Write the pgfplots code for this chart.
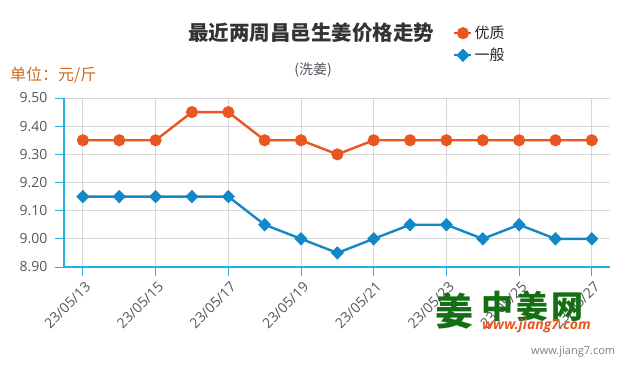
\documentclass[border=0pt]{standalone}
\usepackage{fontspec}
\setmainfont{Open Sans}
\newfontfamily\cjk{Noto Sans CJK SC}
\usepackage{pgfplots}
\pgfplotsset{compat=1.18}
\definecolor{cOrange}{RGB}{233,86,32}
\definecolor{cBlue}{RGB}{18,136,200}
\definecolor{cAxis}{RGB}{40,175,225}
\definecolor{cGrid}{RGB}{215,215,215}
\definecolor{cTick}{RGB}{85,85,95}
\definecolor{cUnit}{RGB}{210,105,30}
\definecolor{cLogo}{RGB}{20,110,20}
\begin{document}
\begin{tikzpicture}[x=1pt,y=1pt]
\useasboundingbox (0pt,0pt) rectangle (635pt,-375pt);
\begin{axis}[
  at={(64pt,-267pt)}, anchor=south west,
  scale only axis, width=546pt, height=169pt,
  xmin=-0.52, xmax=14.5, ymin=8.9, ymax=9.5,
  axis x line=bottom, axis y line=left,
  axis line style={-, draw=cAxis, line width=1.2pt},
  xtick={0,2,...,14},
  xticklabels={23/05/13,23/05/15,23/05/17,23/05/19,23/05/21,23/05/23,23/05/25,23/05/27},
  ytick={8.9,9.0,...,9.5},
  /pgf/number format/fixed, /pgf/number format/fixed zerofill, /pgf/number format/precision=2,
  /pgf/number format/assume math mode=true,
  tick align=outside, major tick length=9pt,
  tick style={draw=cAxis, line width=1pt},
  grid=major, major grid style={draw=cGrid, line width=0.9pt},
  ticklabel style={font=\fontsize{14}{16}\selectfont, text=cTick},
  x tick label style={rotate=45, anchor=north east, xshift=1pt, yshift=-1pt},
  y tick label style={xshift=-4pt},
  legend style={at={(0.707,1.45)}, anchor=north west, draw=none, fill=none,
    font=\cjk\fontsize{15}{17}\selectfont, text=black!85, row sep=4pt,
    /tikz/every even column/.append style={column sep=4pt}},
  legend cell align=left,
  clip=false,
]
\addplot[cOrange, line width=2.4pt, mark=*, mark size=4.8pt, mark options={solid, fill=cOrange, draw=cOrange}]
 coordinates {(0,9.35)(1,9.35)(2,9.35)(3,9.45)(4,9.45)(5,9.35)(6,9.35)(7,9.30)(8,9.35)(9,9.35)(10,9.35)(11,9.35)(12,9.35)(13,9.35)(14,9.35)};
\addlegendentry{优质}
\addplot[cBlue, line width=2.4pt, mark=diamond*, mark size=5pt, mark options={solid, fill=cBlue, draw=cBlue, xscale=1.3}]
 coordinates {(0,9.15)(1,9.15)(2,9.15)(3,9.15)(4,9.15)(5,9.05)(6,9.00)(7,8.95)(8,9.00)(9,9.05)(10,9.05)(11,9.00)(12,9.05)(13,9.00)(14,9.00)};
\addlegendentry{一般}
\end{axis}
\node[font=\cjk\bfseries\fontsize{20.5}{22}\selectfont, text=black!80] at (311pt,-33pt) {最近两周昌邑生姜价格走势};
\node[font=\cjk\fontsize{14}{16}\selectfont, text=cTick] at (313pt,-70pt) {(洗姜)};
\node[font=\cjk\fontsize{16}{18}\selectfont, text=cUnit, anchor=west, inner sep=0pt] at (10pt,-75pt) {单位：元/斤};
\node[font=\cjk\bfseries\fontsize{38}{40}\selectfont, text=cLogo, anchor=west, inner sep=0pt] at (435pt,-311pt) {姜};
\node[font=\cjk\bfseries\fontsize{32}{34}\selectfont, text=cLogo, anchor=west, inner sep=0pt] at (481pt,-306pt) {中\kern3pt 姜\kern3pt 网};
\node[font=\bfseries\itshape\fontsize{14}{16}\selectfont, text=cOrange, anchor=west, inner sep=0pt] at (482pt,-326pt) {www.jiang7.com};
\node[font=\fontsize{11}{13}\selectfont, text=gray, anchor=west, inner sep=0pt] at (531pt,-352pt) {www.jiang7.com};
\end{tikzpicture}
\end{document}
